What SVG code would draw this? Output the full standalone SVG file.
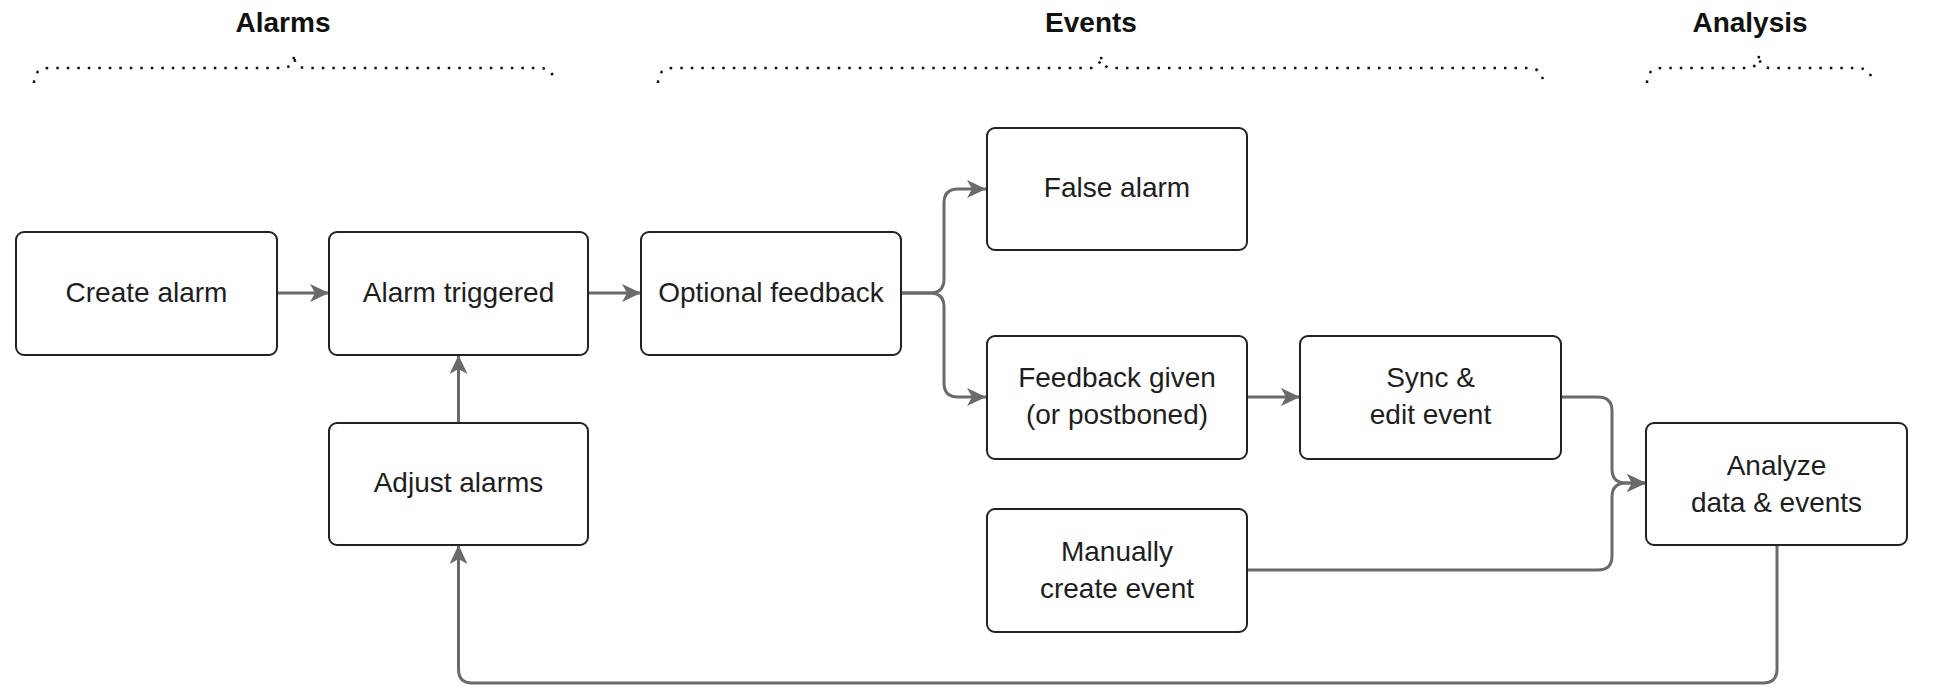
<svg xmlns="http://www.w3.org/2000/svg" width="1938" height="698" viewBox="0 0 1938 698">
<style>
.box{fill:#fff;stroke:#222;stroke-width:2}
.lbl{font-family:"Liberation Sans",Arial,sans-serif;font-size:28px;fill:#1e1e1e;text-anchor:middle}
.ttl{font-family:"Liberation Sans",Arial,sans-serif;font-size:28px;font-weight:bold;fill:#111;text-anchor:middle}
.brace{fill:none;stroke:#111;stroke-width:2.5;stroke-dasharray:2.5 8}
.con{fill:none;stroke:#6a6a6a;stroke-width:3;marker-end:url(#arr)}
</style>
<defs>
<marker id="arr" markerUnits="userSpaceOnUse" markerWidth="22" markerHeight="22" refX="19" refY="9" orient="auto">
<path d="M0,0 L19,9 L0,18 L5,9 Z" fill="#6a6a6a"/>
</marker>
</defs>
<rect width="1938" height="698" fill="#fff"/>
<g id="groups">
<text class="ttl" x="283" y="32">Alarms</text>
<path class="brace" d="M34,83 Q34,68 49,68 L282,68 Q294,68 294,54 Q294,68 306,68 L539,68 Q554,68 554,83"/>
<text class="ttl" x="1091" y="32">Events</text>
<path class="brace" d="M658,83 Q658,68 673,68 L1089,68 Q1101,68 1101,55 Q1101,68 1113,68 L1528,68 Q1543,68 1543,83"/>
<text class="ttl" x="1750" y="32">Analysis</text>
<path class="brace" d="M1647,83 Q1647,68 1662,68 L1747,68 Q1759,68 1759,54 Q1759,68 1771,68 L1857,68 Q1872,68 1872,83"/>
</g>
<g id="connectors">
<path class="con" d="M277,293 L329,293"/>
<path class="con" d="M588,293 L641,293"/>
<path class="con" d="M458.5,423 L458.5,355"/>
<path class="con" d="M901,293 L930,293 Q944,293 944,279 L944,203 Q944,189 958,189 L986,189"/>
<path class="con" d="M901,293 L930,293 Q944,293 944,307 L944,383 Q944,397 958,397 L986,397"/>
<path class="con" d="M1247,397 L1300,397"/>
<path class="con" d="M1561,397 L1598,397 Q1612,397 1612,411 L1612,469 Q1612,483 1626,483 L1646,483"/>
<path class="con" d="M1247,570 L1598,570 Q1612,570 1612,556 L1612,497 Q1612,483 1626,483 L1646,483"/>
<path class="con" d="M1777,545 L1777,669 Q1777,683 1763,683 L472,683 Q458.5,683 458.5,669 L458.5,545"/>
</g>
<g id="create-alarm"><rect class="box" x="16" y="232" width="261" height="123" rx="8"/><text class="lbl" x="146.5" y="302">Create alarm</text></g>
<g id="alarm-triggered"><rect class="box" x="329" y="232" width="259" height="123" rx="8"/><text class="lbl" x="458.5" y="302">Alarm triggered</text></g>
<g id="optional-feedback"><rect class="box" x="641" y="232" width="260" height="123" rx="8"/><text class="lbl" x="771" y="302">Optional feedback</text></g>
<g id="false-alarm"><rect class="box" x="987" y="128" width="260" height="122" rx="8"/><text class="lbl" x="1117" y="197">False alarm</text></g>
<g id="feedback-given"><rect class="box" x="987" y="336" width="260" height="123" rx="8"/><text class="lbl" x="1117" y="387">Feedback given</text><text class="lbl" x="1117" y="424">(or postboned)</text></g>
<g id="sync-edit"><rect class="box" x="1300" y="336" width="261" height="123" rx="8"/><text class="lbl" x="1430.5" y="387">Sync &amp;</text><text class="lbl" x="1430.5" y="424">edit event</text></g>
<g id="manual-event"><rect class="box" x="987" y="509" width="260" height="123" rx="8"/><text class="lbl" x="1117" y="561">Manually</text><text class="lbl" x="1117" y="598">create event</text></g>
<g id="adjust-alarms"><rect class="box" x="329" y="423" width="259" height="122" rx="8"/><text class="lbl" x="458.5" y="492">Adjust alarms</text></g>
<g id="analyze"><rect class="box" x="1646" y="423" width="261" height="122" rx="8"/><text class="lbl" x="1776.5" y="475">Analyze</text><text class="lbl" x="1776.5" y="512">data &amp; events</text></g>
</svg>
